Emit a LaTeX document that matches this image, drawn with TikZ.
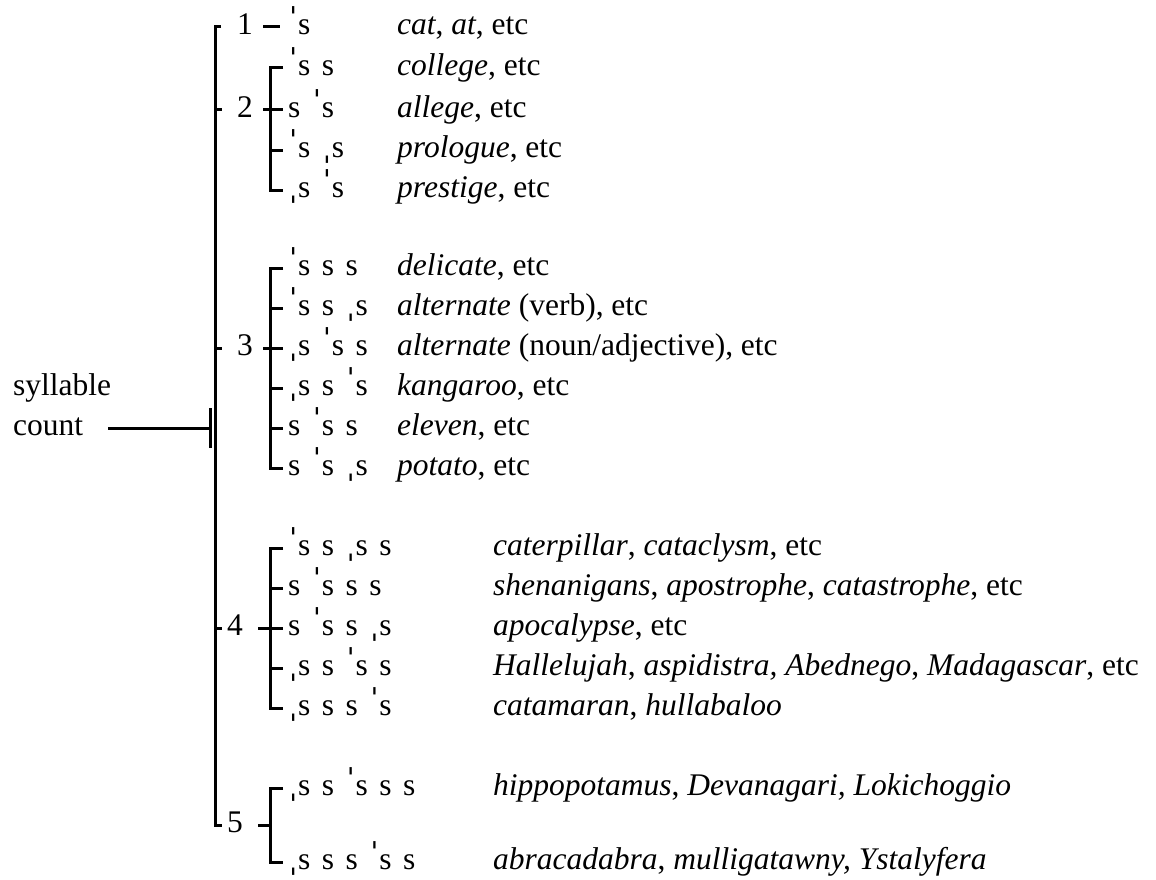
\documentclass[tikz,border=0pt]{standalone}
\usepackage{fontspec}
\usepackage{newunicodechar}
\setmainfont{Liberation Serif}
\newfontfamily\markfont{DejaVu Serif}
\newunicodechar{ˈ}{\makebox[10pt][c]{\raisebox{4pt}{\markfont\symbol{"02C8}}}}
\newunicodechar{ˌ}{\makebox[10pt][c]{\raisebox{-2pt}{\markfont\symbol{"02CC}}}}
\usetikzlibrary{positioning}

\begin{document}
\fontsize{31.5}{36}\selectfont
\begin{tikzpicture}[x=1pt,y=-1pt,
    every node/.style={inner sep=0pt, anchor=mid west},
    stress/.style={execute at begin node={\spaceskip=11.5pt\relax}},
    branch/.style={line width=3pt}]
        \useasboundingbox (0,0) rectangle (1156,880);
        % root label
        \node (syl) at (13,388) {syllable};
        \node (cnt) at (13,428) {count};
        \coordinate (top) at (215,27);
        \coordinate (root) at (215,428);
        \coordinate (bot) at (215,825);
        % syllable numbers
        \node (n1) at (237,27) {1};
        \node (n2) at (237,110) {2};
        \node (n3) at (237,348) {3};
        \node (n4) at (227,628) {4};
        \node (n5) at (227,825) {5};
        % stress patterns
        \node[stress] (p1) at (288,27) {ˈs};
        \node[stress] (p2a) at (288,68) {ˈs s};
        \node[stress] (p2b) at (288,110) {s ˈs};
        \node[stress] (p2c) at (288,150) {ˈs ˌs};
        \node[stress] (p2d) at (288,190) {ˌs ˈs};
        \node[stress] (p3a) at (288,268) {ˈs s s};
        \node[stress] (p3b) at (288,308) {ˈs s ˌs};
        \node[stress] (p3c) at (288,348) {ˌs ˈs s};
        \node[stress] (p3d) at (288,388) {ˌs s ˈs};
        \node[stress] (p3e) at (288,428) {s ˈs s};
        \node[stress] (p3f) at (288,468) {s ˈs ˌs};
        \node[stress] (p4a) at (288,548) {ˈs s ˌs s};
        \node[stress] (p4b) at (288,588) {s ˈs s s};
        \node[stress] (p4c) at (288,628) {s ˈs s ˌs};
        \node[stress] (p4d) at (288,668) {ˌs s ˈs s};
        \node[stress] (p4e) at (288,708) {ˌs s s ˈs};
        \node[stress] (p5a) at (288,788) {ˌs s ˈs s s};
        \node[stress] (p5b) at (288,862) {ˌs s s ˈs s};
        % example words
        \node (w1) at (397,27) {\textit{cat}, \textit{at}, etc};
        \node (w2a) at (397,68) {\textit{college}, etc};
        \node (w2b) at (397,110) {\textit{allege}, etc};
        \node (w2c) at (397,150) {\textit{prologue}, etc};
        \node (w2d) at (397,190) {\textit{prestige}, etc};
        \node (w3a) at (397,268) {\textit{delicate}, etc};
        \node (w3b) at (397,308) {\textit{alternate} (verb), etc};
        \node (w3c) at (397,348) {\textit{alternate} (noun/adjective), etc};
        \node (w3d) at (397,388) {\textit{kangaroo}, etc};
        \node (w3e) at (397,428) {\textit{eleven}, etc};
        \node (w3f) at (397,468) {\textit{potato}, etc};
        \node (w4a) at (493,548) {\textit{caterpillar}, \textit{cataclysm}, etc};
        \node (w4b) at (493,588) {\textit{shenanigans}, \textit{apostrophe}, \textit{catastrophe}, etc};
        \node (w4c) at (493,628) {\textit{apocalypse}, etc};
        \node (w4d) at (493,668) {\textit{Hallelujah}, \textit{aspidistra, Abednego}, \textit{Madagascar}, etc};
        \node (w4e) at (493,708) {\textit{catamaran}, \textit{hullabaloo}};
        \node (w5a) at (493,788) {\textit{hippopotamus}, \textit{Devanagari, Lokichoggio}};
        \node (w5b) at (493,862) {\textit{abracadabra}, \textit{mulligatawny, Ystalyfera}};

        % trunk
        \draw[branch] ([xshift=-5]root) -- (cnt.mid east -| 108,0);
        \draw[branch] ([shift={(-5,-20)}]root) -- ([shift={(-5,20)}]root);
        \draw[branch] ([xshift=6]top) -- (top) -- (bot) -- ([xshift=7]bot);
        \draw[branch] (n2.mid west -| top) -- ++(7,0);
        \draw[branch] (n3.mid west -| top) -- ++(7,0);
        \draw[branch] (n4.mid west -| top) -- ++(7,0);

        % one syllable
        \draw[branch] ([xshift=10]n1.mid east) -- ([xshift=-8]p1.mid west);
        % two syllables
        \draw[branch] ([xshift=10]n2.mid east) -- ([xshift=-5]p2b.mid west);
        \draw[branch] ([xshift=-5]p2a.mid west) -- ([xshift=-18]p2a.mid west) -- ([xshift=-18]p2d.mid west) -- ([xshift=-5]p2d.mid west);
        \draw[branch] ([xshift=-18]p2c.mid west) -- ([xshift=-5]p2c.mid west);
        % three syllables
        \draw[branch] ([xshift=10]n3.mid east) -- ([xshift=-5]p3c.mid west);
        \draw[branch] ([xshift=-5]p3a.mid west) -- ([xshift=-18]p3a.mid west) -- ([xshift=-18]p3f.mid west) -- ([xshift=-5]p3f.mid west);
        \draw[branch] ([xshift=-18]p3b.mid west) -- ([xshift=-5]p3b.mid west);
        \draw[branch] ([xshift=-18]p3d.mid west) -- ([xshift=-5]p3d.mid west);
        \draw[branch] ([xshift=-18]p3e.mid west) -- ([xshift=-5]p3e.mid west);
        % four syllables
        \draw[branch] ([xshift=-30]p4c.mid west) -- ([xshift=-5]p4c.mid west);
        \draw[branch] ([xshift=-5]p4a.mid west) -- ([xshift=-18]p4a.mid west) -- ([xshift=-18]p4e.mid west) -- ([xshift=-5]p4e.mid west);
        \draw[branch] ([xshift=-18]p4b.mid west) -- ([xshift=-5]p4b.mid west);
        \draw[branch] ([xshift=-18]p4d.mid west) -- ([xshift=-5]p4d.mid west);
        % five syllables
        \draw[branch] ([xshift=-5]p5a.mid west) -- ([xshift=-18]p5a.mid west) -- ([xshift=-18]p5b.mid west) -- ([xshift=-5]p5b.mid west);
        \draw[branch] (n5.mid east -| 258,0) -- (n5.mid east -| 270,0);
    \end{tikzpicture}
\end{document}
